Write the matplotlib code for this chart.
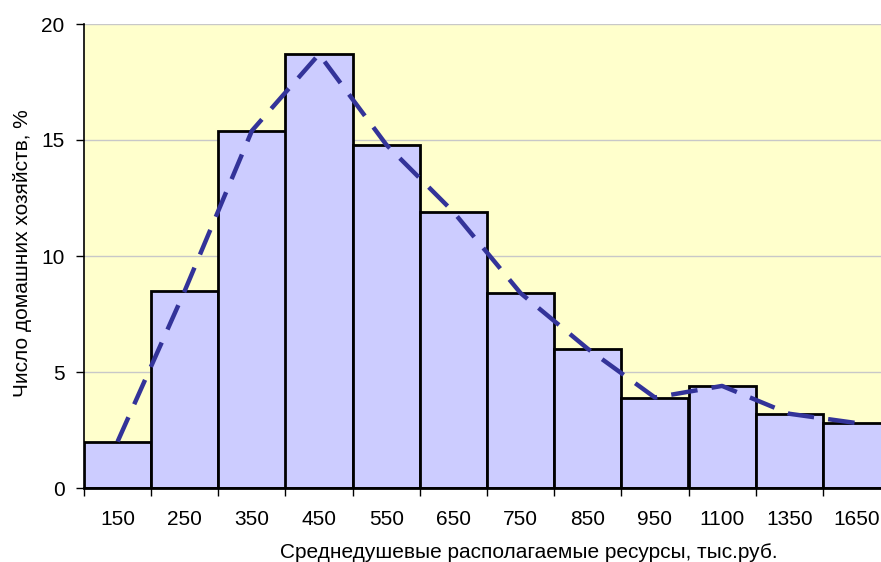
import matplotlib.pyplot as plt
import numpy as np

plt.rcParams['font.family'] = ['Liberation Sans', 'DejaVu Sans']

# income groups (centers, thousand rub.)
categories = ['150', '250', '350', '450', '550', '650', '750', '850',
              '950', '1100', '1350', '1650']
# share of households, %
shares = [2.0, 8.5, 15.4, 18.7, 14.8, 11.9, 8.4, 6.0, 3.9, 4.4, 3.2, 2.8]

fig = plt.figure(figsize=(8.81, 5.62), dpi=100)
ax = fig.add_axes([84 / 881, 74 / 562, 806 / 881, 464 / 562])
ax.set_facecolor('#FFFFCC')

x = np.arange(len(categories))
ax.bar(x, shares, width=1.0, color='#CCCCFF', edgecolor='black',
       linewidth=2, zorder=2)
ax.plot(x, shares, color='#333399', linewidth=3.2,
        linestyle=(0, (6, 3.2)), zorder=3)

ax.set_xlim(-0.5, len(categories) - 0.5)
ax.set_ylim(0, 20)
ax.set_yticks([0, 5, 10, 15, 20])
ax.yaxis.grid(True, color='#C8C8C8', linewidth=1)
ax.set_axisbelow(True)

# ticks between bars, labels at bar centers
ax.set_xticks(np.arange(len(categories) + 1) - 0.5)
ax.set_xticklabels([])
ax.set_xticks(x, minor=True)
ax.set_xticklabels(categories, minor=True)
ax.tick_params(axis='x', which='minor', length=0, pad=16, labelsize=15)
ax.tick_params(axis='x', which='major', length=6, width=1)
ax.tick_params(axis='y', length=6, width=1, labelsize=15, pad=8)

for side in ('top', 'right'):
    ax.spines[side].set_visible(False)
ax.spines['left'].set_linewidth(1.2)
ax.spines['bottom'].set_linewidth(2)

ax.set_xlabel('Среднедушевые располагаемые ресурсы, тыс.руб.',
              fontsize=15, va='baseline')
ax.set_ylabel('Число домашних хозяйств, %', fontsize=15, va='center')
ax.xaxis.set_label_coords((529 - 84) / 806, (488 - 558) / 464)
ax.yaxis.set_label_coords((23 - 84) / 806, (488 - 253) / 464)

fig.savefig('out.png', dpi=100)
